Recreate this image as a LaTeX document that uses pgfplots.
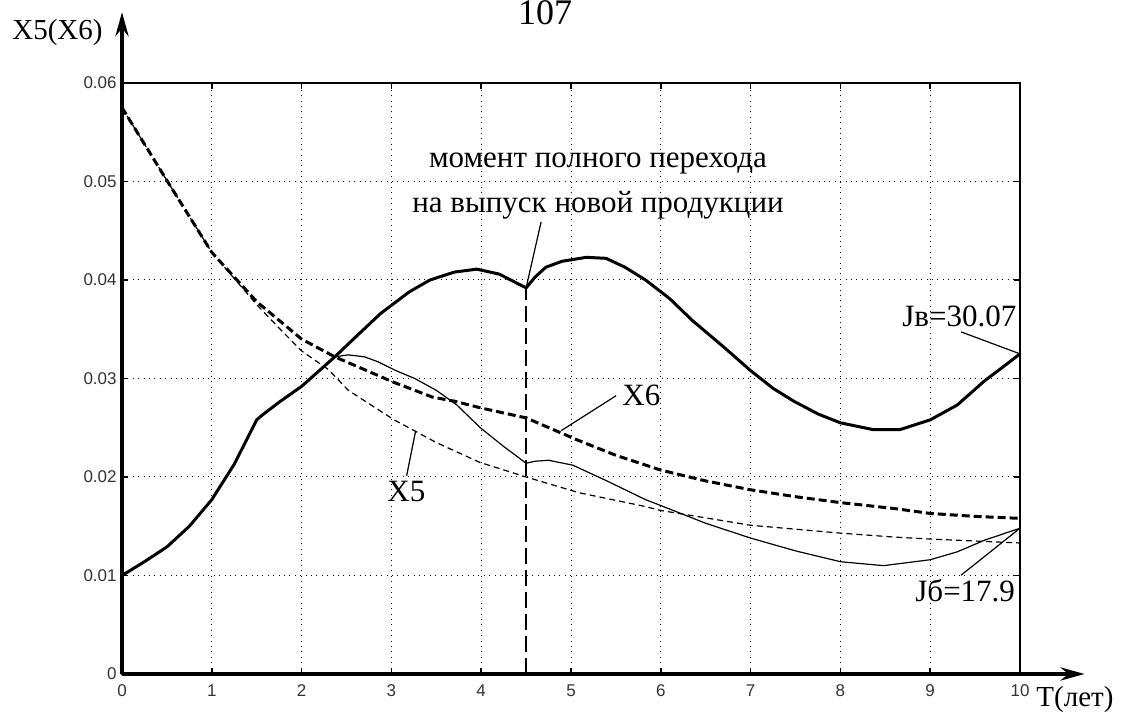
\documentclass[border=0pt]{standalone}
\usepackage{fontspec}
\setmainfont{Liberation Serif}
\setsansfont{Liberation Sans}
\usepackage{pgfplots}
\pgfplotsset{compat=1.18}
\usetikzlibrary{arrows.meta}

\newcommand{\lbl}{\fontsize{15.5}{18}\selectfont}
\newcommand{\axlbl}{\fontsize{14.5}{17}\selectfont}

\begin{document}
\begin{tikzpicture}
\useasboundingbox (0,0) rectangle (566.5pt,357.5pt);
\begin{axis}[
  at={(61pt,20.5pt)}, anchor=south west,
  width=449pt, height=295.5pt, scale only axis,
  xmin=0, xmax=10, ymin=0, ymax=0.06,
  clip=false,
  scaled ticks=false,
  xtick={0,1,2,3,4,5,6,7,8,9,10},
  xticklabels={0,1,2,3,4,5,6,7,8,9,10},
  ytick={0,0.01,0.02,0.03,0.04,0.05,0.06},
  yticklabels={0,0.01,0.02,0.03,0.04,0.05,0.06},
  ticklabel style={font=\sffamily\fontsize{8.5}{10}\selectfont, text=black!80, inner sep=0pt},
  xticklabel style={yshift=-5pt},
  yticklabel style={xshift=-2.5pt},
  tick align=inside,
  major tick length=3pt,
  tick style={line width=0.8pt, black},
  axis line style={line width=1pt},
  grid=major,
  major grid style={line width=0.5pt, black, dash pattern=on 0.5pt off 2.2pt},
]
% Jv: thick solid
\addplot[black, line width=1.5pt] coordinates {
(0,0.0100) (0.25,0.0114) (0.5,0.0129) (0.75,0.0150) (1.0,0.0177) (1.25,0.0213)
(1.5,0.0258) (1.55,0.0262) (1.75,0.0276) (2.0,0.0292) (2.37,0.0322) (2.6,0.0342)
(2.88,0.0366) (3.2,0.0388) (3.43,0.0400) (3.7,0.0408) (3.95,0.0411) (4.2,0.0406)
(4.5,0.0392) (4.6,0.0403) (4.72,0.0413) (4.9,0.0419) (5.17,0.0423) (5.39,0.0422)
(5.6,0.0413) (5.83,0.0400) (6.1,0.0381) (6.35,0.0359) (6.7,0.0332) (7.0,0.0308)
(7.25,0.0290) (7.48,0.0277) (7.75,0.0264) (8.0,0.0255) (8.37,0.0248) (8.66,0.0248)
(9.0,0.0258) (9.3,0.0273) (9.61,0.0298) (9.8,0.0311) (10.0,0.0325)
};
% X6: thick dashed
\addplot[black, line width=1.5pt, dash pattern=on 4pt off 2pt] coordinates {
(0,0.0575) (0.5,0.0501) (1.0,0.0428) (1.5,0.0378) (2.0,0.0340) (2.37,0.0322)
(3.03,0.0296) (3.46,0.0281) (3.7,0.0277) (4.0,0.0270) (4.5,0.0260) (5.06,0.0238)
(5.5,0.0222) (6.0,0.0207) (6.5,0.0196) (7.0,0.0187) (7.5,0.0180) (8.0,0.0174)
(8.6,0.0168) (9.0,0.0163) (9.5,0.0160) (10,0.0158)
};
% X5: thin dashed
\addplot[black, line width=0.6pt, dash pattern=on 3pt off 2pt] coordinates {
(0,0.0575) (0.5,0.0501) (1.0,0.0428) (1.5,0.0375) (1.74,0.0352) (2.0,0.0328)
(2.3,0.0309) (2.52,0.0288) (3.03,0.0258) (3.5,0.0235) (3.98,0.0215) (4.5,0.0200)
(5.09,0.0184) (5.83,0.0170) (6.0,0.0166) (7.0,0.0151) (8.0,0.0143) (8.6,0.0139)
(9.0,0.0137) (10,0.0133)
};
% Jb: thin solid
\addplot[black, line width=0.6pt] coordinates {
(2.37,0.0322) (2.52,0.0324) (2.7,0.0322) (2.85,0.0317) (3.05,0.0308) (3.26,0.0300)
(3.5,0.0288) (3.73,0.0273) (3.99,0.0250) (4.25,0.0231) (4.5,0.0214) (4.6,0.0216)
(4.75,0.0217) (5.02,0.0212) (5.4,0.0196) (5.83,0.0177) (6.0,0.0171) (6.5,0.0153)
(7.0,0.0138) (7.5,0.0125) (8.0,0.0114) (8.48,0.0110) (9.0,0.0116) (9.3,0.0124)
(9.61,0.0136) (10,0.0148)
};
% moment of full transition
\addplot[black, line width=0.8pt, dash pattern=on 8pt off 3pt] coordinates {(4.5,0) (4.5,0.0392)};

% axis arrows
\draw[line width=2pt, -{Stealth[length=12pt,width=6.5pt]}] (axis cs:0,0) -- (axis cs:0,0.0672);
\draw[line width=2pt, -{Stealth[length=12pt,width=6.5pt]}] (axis cs:0,0) -- (axis cs:10.72,0);

% leaders
\draw[line width=0.6pt] (axis cs:4.5,0.0392) -- ++(7.5pt,33pt);
\draw[line width=0.6pt] (axis cs:4.89,0.0247) -- ++(27.5pt,17.5pt);
\draw[line width=0.6pt] (axis cs:3.27,0.0247) -- ++(-4.5pt,-22.5pt);
\draw[line width=0.6pt] (axis cs:10,0.0325) -- ++(-29.5pt,11pt);
\draw[line width=0.6pt] (axis cs:10,0.0148) -- ++(-29.5pt,-23.5pt);
\end{axis}

\node[anchor=base, font=\lbl] at (299pt,273.5pt) {момент полного перехода};
\node[anchor=base, font=\lbl] at (299pt,251pt) {на выпуск новой продукции};
\node[anchor=base west, font=\lbl, inner sep=0pt] at (311pt,154.5pt) {X6};
\node[anchor=base west, font=\lbl, inner sep=0pt] at (193.5pt,106.5pt) {X5};
\node[anchor=base west, font=\lbl, inner sep=0pt] at (451pt,194pt) {Jв=30.07};
\node[anchor=base west, font=\lbl, inner sep=0pt] at (457.5pt,56.5pt) {Jб=17.9};
\node[anchor=base west, font=\axlbl, inner sep=0pt] at (6pt,337.5pt) {X5(X6)};
\node[anchor=base west, font=\axlbl, inner sep=0pt] at (518pt,4pt) {T(лет)};
\node[anchor=base, font=\fontsize{18}{21}\selectfont] at (272.5pt,345pt) {107};
\end{tikzpicture}
\end{document}
